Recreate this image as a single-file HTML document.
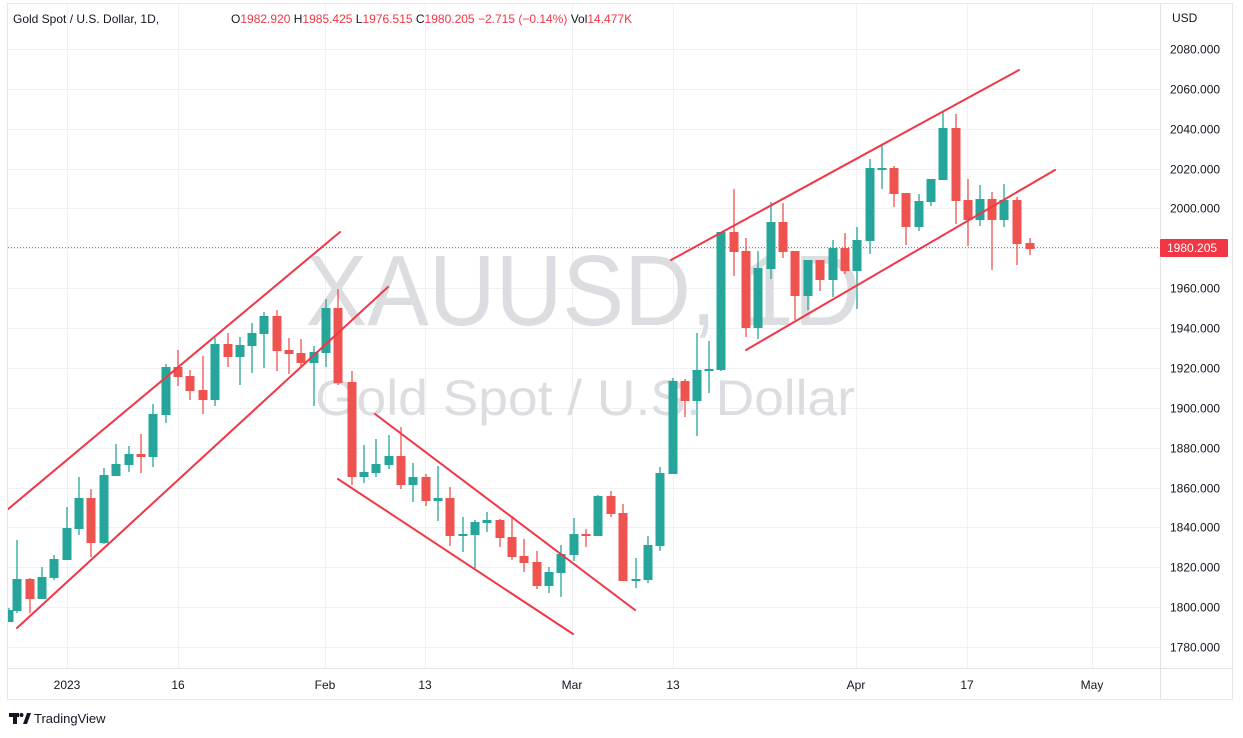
<!DOCTYPE html>
<html><head><meta charset="utf-8"><style>
html,body{margin:0;padding:0;background:#fff;width:1243px;height:738px;overflow:hidden}
svg{display:block;font-family:"Liberation Sans",sans-serif}
</style></head><body>
<svg id="s" width="1243" height="738" viewBox="0 0 1243 738" xmlns="http://www.w3.org/2000/svg">
<rect x="7.5" y="3.5" width="1225" height="696" fill="#fff" stroke="#e6e7ea"/>
<g id="grid" stroke="#f0f1f3" stroke-width="1"></g>
<text x="583" y="325" font-size="100" fill="#dcdde0" text-anchor="middle" textLength="555" lengthAdjust="spacingAndGlyphs">XAUUSD, 1D</text>
<text x="585" y="415" font-size="50" fill="#dcdde0" text-anchor="middle" textLength="540" lengthAdjust="spacingAndGlyphs">Gold Spot / U.S. Dollar</text>
<g id="c"></g>
<line x1="8" y1="247.5" x2="1160" y2="247.5" stroke="#ef5350" stroke-width="1" stroke-dasharray="1,2"/>
<g stroke="#f23645" stroke-width="2" stroke-linecap="round">
<line x1="7" y1="510" x2="340" y2="232"/>
<line x1="17" y1="628" x2="388" y2="287"/>
<line x1="375" y1="414" x2="635" y2="610"/>
<line x1="338" y1="479" x2="573" y2="634"/>
<line x1="671" y1="260" x2="1019" y2="70"/>
<line x1="746" y1="350" x2="1055" y2="170"/>
</g>
<rect x="0" y="0" width="7" height="700" fill="#fff"/>
<rect x="8" y="668" width="1152" height="31" fill="#fff"/>
<line x1="8" y1="668.5" x2="1232" y2="668.5" stroke="#e0e3eb"/>
<line x1="1160.5" y1="4" x2="1160.5" y2="699" stroke="#e0e3eb"/>
<line x1="7.5" y1="3" x2="7.5" y2="700" stroke="#e6e7ea"/>
<g id="ax" font-size="12" fill="#131722"></g>
<text x="1172" y="22" font-size="12" fill="#131722">USD</text>
<rect x="1160" y="239" width="68" height="18" fill="#f23645" rx="1"/>
<text x="1167" y="252" font-size="12" fill="#fff">1980.205</text>
<text x="13" y="23" font-size="12" fill="#131722">Gold Spot / U.S. Dollar, 1D,</text>
<text x="231" y="23" font-size="12" fill="#131722">O<tspan fill="#f23645">1982.920</tspan> H<tspan fill="#f23645">1985.425</tspan> L<tspan fill="#f23645">1976.515</tspan> C<tspan fill="#f23645">1980.205</tspan> <tspan fill="#f23645">−2.715 (−0.14%)</tspan> Vol<tspan fill="#f23645">14.477K</tspan></text>
<g fill="#131722"><rect x="9" y="713" width="10" height="4"/><rect x="13" y="713" width="4" height="11"/><circle cx="21.5" cy="715" r="2"/><polygon points="23,724 27,713 31,713 27,724"/></g>
<text x="34" y="723" font-size="13" fill="#131722">TradingView</text>
</svg>
<script>
var NS="http://www.w3.org/2000/svg",g=document.getElementById('grid'),c=document.getElementById('c'),ax=document.getElementById('ax');
function el(p,t,a){var e=document.createElementNS(NS,t);for(var k in a)e.setAttribute(k,a[k]);p.appendChild(e);return e;}
for(var i=0;i<16;i++){var y=Math.round(49+i*39.866)+.5;el(g,'line',{x1:8,y1:y,x2:1160,y2:y});
var t=el(ax,'text',{x:1170,y:y+4});t.textContent=(2080-20*i)+'.000';}
var xs=[[67,'2023',1],[178,'16'],[325,'Feb'],[425,'13'],[572,'Mar'],[673,'13'],[856,'Apr'],[967,'17'],[1092,'May']];
xs.forEach(function(v){el(g,'line',{x1:v[0]+.5,y1:4,x2:v[0]+.5,y2:668});var t=el(ax,'text',{x:v[0],y:689,'text-anchor':'middle'});t.textContent=v[1];});
var d=[[9,610,622,608,622,1],[17,579,611,540,613,1],[30,579,599,578,613,0],[42,577,599,567,599,1],[54,559,578,555,580,1],[67,528,560,507,560,1],[79,498,529,477,535,1],[91,498,543,489,557,0],[104,475,543,468,544,1],[116,464,476,444,476,1],[129,454,465,446,472,1],[141,454,457,434,473,0],[153,414,457,404,467,1],[166,367,415,364,423,1],[178,367,377,350,386,0],[190,376,391,370,400,0],[203,390,400,356,414,0],[215,344,400,338,406,1],[228,344,357,333,367,0],[240,345,357,337,385,1],[252,333,346,323,373,1],[264,316,334,312,368,1],[277,316,351,310,371,0],[289,350,354,338,374,0],[301,353,363,339,367,0],[314,352,363,346,406,1],[326,308,353,299,367,1],[338,308,383,289,385,0],[352,382,477,371,485,0],[364,472,477,445,483,1],[376,464,473,439,477,1],[389,456,465,435,469,1],[401,456,485,427,489,0],[413,477,485,463,502,1],[426,477,501,474,506,0],[438,498,501,466,521,1],[450,498,536,487,546,0],[463,534,536,517,552,1],[475,522,535,520,568,1],[487,520,523,512,532,1],[500,520,538,519,547,0],[512,537,557,516,560,0],[524,556,563,539,572,0],[537,562,586,551,589,0],[549,572,586,567,593,1],[561,554,573,545,597,1],[574,534,555,518,561,1],[586,534,536,529,547,0],[598,496,536,495,536,1],[611,496,514,491,517,0],[623,513,581,504,581,0],[636,579,581,558,588,1],[648,545,580,536,583,1],[660,473,546,467,551,1],[673,381,474,378,474,1],[685,381,401,379,417,0],[697,370,401,333,436,1],[709,369,370,341,393,1],[721,232,370,232,371,1],[734,232,252,189,276,0],[746,251,328,238,337,0],[758,268,328,251,339,1],[771,222,269,202,279,1],[783,222,252,203,258,0],[795,251,296,251,320,0],[808,260,296,260,310,1],[820,260,280,260,291,0],[833,248,280,240,297,1],[845,248,271,233,274,0],[857,240,271,227,309,1],[870,168,241,159,254,1],[882,168,169,145,189,1],[894,168,194,166,207,0],[906,193,227,193,245,0],[919,201,227,194,231,1],[931,179,202,179,206,1],[943,128,180,111,180,1],[956,128,201,114,224,0],[968,200,220,179,246,0],[980,199,220,185,226,1],[992,199,220,192,270,0],[1004,200,220,184,227,1],[1017,200,244,197,265,0],[1030,243,249,238,255,0]];
d.forEach(function(v){var col=v[5]?'#26a69a':'#ef5350';
el(c,'line',{x1:v[0],y1:v[3],x2:v[0],y2:v[4],stroke:col,'stroke-width':1.3});
var h=Math.max(2,v[2]-v[1]);el(c,'rect',{x:v[0]-4.5,y:v[1],width:9,height:h,fill:col});});
</script>
</body></html>
